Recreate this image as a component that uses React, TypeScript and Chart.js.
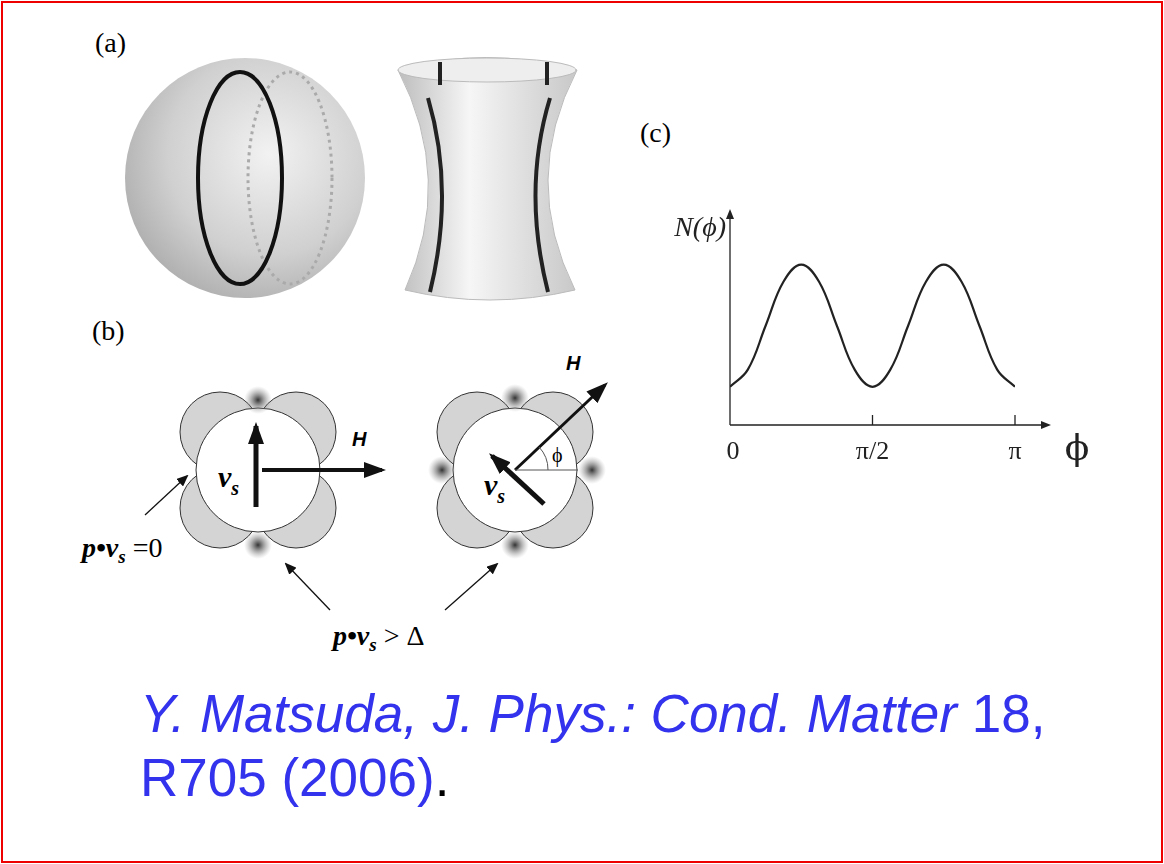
import React, { useEffect, useRef } from "react";
import { Chart, registerables } from "chart.js";
Chart.register(...registerables);

// angle in units of pi
const phiValues = [0, 0.0625, 0.125, 0.1875, 0.25, 0.3125, 0.375, 0.4375, 0.5, 0.5625, 0.625, 0.6875, 0.75, 0.8125, 0.875, 0.9375, 1];
const nValues = [1.0, 1.45, 2.6, 3.75, 4.2, 3.75, 2.6, 1.45, 1.0, 1.45, 2.6, 3.75, 4.2, 3.75, 2.6, 1.45, 1.0];
const tickValues = [0, 0.5, 1];
const tickLabels = ["0", "π/2", "π"];

const axesPlugin = {
  id: "axesPlugin",
  afterDraw(chart: any) {
    const { ctx, scales } = chart;
    const x = scales.x, y = scales.y;
    const x0 = x.getPixelForValue(0), y0 = y.getPixelForValue(0);
    const xEnd = x.getPixelForValue(1) + 30, yTop = y.getPixelForValue(5.5);
    ctx.save();
    ctx.strokeStyle = "#222"; ctx.fillStyle = "#222"; ctx.lineWidth = 1.3;
    ctx.beginPath(); ctx.moveTo(x0, y0); ctx.lineTo(xEnd, y0); ctx.moveTo(x0, y0); ctx.lineTo(x0, yTop); ctx.stroke();
    ctx.beginPath(); ctx.moveTo(xEnd + 6, y0); ctx.lineTo(xEnd - 4, y0 - 4); ctx.lineTo(xEnd - 4, y0 + 4); ctx.fill();
    ctx.beginPath(); ctx.moveTo(x0, yTop - 6); ctx.lineTo(x0 - 4, yTop + 4); ctx.lineTo(x0 + 4, yTop + 4); ctx.fill();
    ctx.font = "26px 'Liberation Serif', serif"; ctx.textAlign = "center"; ctx.textBaseline = "top";
    tickValues.forEach((v, i) => {
      const px = x.getPixelForValue(v);
      if (i > 0) { ctx.beginPath(); ctx.moveTo(px, y0); ctx.lineTo(px, y0 - 10); ctx.stroke(); }
      ctx.fillText(tickLabels[i], px + (i === 0 ? 3 : 0), y0 + 14);
    });
    ctx.font = "36px 'DejaVu Serif', serif";
    ctx.fillText("ϕ", xEnd + 32, y0 + 8);
    ctx.font = "italic 28px 'Liberation Serif', serif"; ctx.textAlign = "right"; ctx.textBaseline = "middle";
    ctx.fillText("N(ϕ)", x0 - 4, yTop + 14);
    ctx.restore();
  },
};

export default function App() {
  const ref = useRef<HTMLCanvasElement>(null);
  useEffect(() => {
    const chart = new Chart(ref.current!, {
      type: "line",
      data: { datasets: [{ data: phiValues.map((p, i) => ({ x: p, y: nValues[i] })), borderColor: "#222", borderWidth: 2.2, pointRadius: 0, tension: 0.4 }] },
      options: {
        animation: false, responsive: false, devicePixelRatio: 1,
        layout: { padding: { left: 730, right: 149, top: 215, bottom: 439 } },
        plugins: { legend: { display: false }, tooltip: { enabled: false } },
        scales: { x: { type: "linear", min: 0, max: 1, display: false }, y: { min: 0, max: 5.5, display: false } },
      },
      plugins: [axesPlugin],
    });
    return () => chart.destroy();
  }, []);
  const serif = "'Liberation Serif', serif";
  const lobes = (cx: number, cy: number) => (
    <g>
      {[[-1, -1], [1, -1], [-1, 1], [1, 1]].map(([a, b], i) => (
        <circle key={i} cx={cx + a * 38} cy={cy + b * 38} r={40} fill="#d4d4d4" stroke="#333" strokeWidth={1} />
      ))}
      <circle cx={cx} cy={cy} r={62} fill="#fff" stroke="#333" strokeWidth={1} />
    </g>
  );
  const blob = (cx: number, cy: number, k: number) => <circle key={k} cx={cx} cy={cy} r={14} fill="url(#blob)" />;
  return (
    <div style={{ position: "absolute", left: 0, top: 0, width: 1164, height: 864, background: "#fff" }}>
      <svg width={1164} height={864} style={{ position: "absolute", left: 0, top: 0 }}>
        <defs>
          <radialGradient id="sph" cx="0.6" cy="0.4" r="0.7">
            <stop offset="0" stopColor="#f2f2f2" /><stop offset="0.6" stopColor="#d0d0d0" /><stop offset="1" stopColor="#a8a8a8" />
          </radialGradient>
          <linearGradient id="hyp" x1="0" x2="1">
            <stop offset="0" stopColor="#bdbdbd" /><stop offset="0.4" stopColor="#f6f6f6" /><stop offset="1" stopColor="#c8c8c8" />
          </linearGradient>
          <radialGradient id="blob"><stop offset="0" stopColor="#333" /><stop offset="1" stopColor="#999" stopOpacity="0" /></radialGradient>
          <marker id="ar" markerUnits="userSpaceOnUse" markerWidth="12" markerHeight="10" refX="10" refY="5" orient="auto"><path d="M0,0 L12,5 L0,10 Z" fill="#111" /></marker>
          <marker id="ar2" markerUnits="userSpaceOnUse" markerWidth="22" markerHeight="16" refX="18" refY="8" orient="auto"><path d="M0,0 L22,8 L0,16 Z" fill="#111" /></marker>
        </defs>
        <rect x={2} y={2} width={1160} height={860} fill="none" stroke="#e00" strokeWidth={2} />
        <text x={95} y={52} fontFamily={serif} fontSize={28}>(a)</text>
        <text x={92} y={340} fontFamily={serif} fontSize={28}>(b)</text>
        <text x={640} y={142} fontFamily={serif} fontSize={28}>(c)</text>
        <circle cx={245} cy={178} r={120} fill="url(#sph)" />
        <ellipse cx={290} cy={178} rx={42} ry={106} fill="none" stroke="#aaa" strokeWidth={3} strokeDasharray="3 4" />
        <ellipse cx={240} cy={178} rx={42} ry={106} fill="none" stroke="#111" strokeWidth={4} />
        <path d="M398,70 Q485,45 577,70 Q520,180 575,290 Q490,310 405,290 Q455,180 398,70 Z" fill="url(#hyp)" stroke="#bbb" />
        <ellipse cx={487} cy={70} rx={89} ry={12} fill="#eee" stroke="#bbb" />
        <path d="M440,62 L440,85" stroke="#222" strokeWidth={4} />
        <path d="M547,62 L547,85" stroke="#222" strokeWidth={4} />
        <path d="M428,98 Q455,190 430,292" stroke="#222" strokeWidth={4} fill="none" />
        <path d="M550,98 Q522,190 548,292" stroke="#222" strokeWidth={4} fill="none" />
        {lobes(258, 470)}
        {[blob(258, 400, 1), blob(258, 545, 2)]}
        <line x1={256} y1={507} x2={256} y2={426} stroke="#111" strokeWidth={5} markerEnd="url(#ar2)" />
        <line x1={262} y1={470} x2={382} y2={470} stroke="#111" strokeWidth={4} markerEnd="url(#ar2)" />
        <text x={352} y={446} fontFamily="'Liberation Sans', sans-serif" fontWeight="bold" fontStyle="italic" fontSize={20}>H</text>
        <text x={218} y={487} fontFamily={serif} fontWeight="bold" fontStyle="italic" fontSize={30}>v<tspan fontSize={20} dy={8}>s</tspan></text>
        {lobes(515, 470)}
        {[blob(515, 398, 3), blob(515, 545, 4), blob(442, 470, 5), blob(592, 470, 6)]}
        <line x1={515} y1={470} x2={605} y2={385} stroke="#111" strokeWidth={3} markerEnd="url(#ar2)" />
        <line x1={544} y1={504} x2={492} y2={456} stroke="#111" strokeWidth={5} markerEnd="url(#ar2)" />
        <line x1={515} y1={470} x2={578} y2={470} stroke="#555" strokeWidth={1} />
        <path d="M548,470 A33,33 0 0 0 539,447" fill="none" stroke="#555" />
        <text x={552} y={462} fontFamily={serif} fontSize={20}>ϕ</text>
        <text x={566} y={370} fontFamily="'Liberation Sans', sans-serif" fontWeight="bold" fontStyle="italic" fontSize={20}>H</text>
        <text x={484} y={495} fontFamily={serif} fontWeight="bold" fontStyle="italic" fontSize={30}>v<tspan fontSize={20} dy={8}>s</tspan></text>
        <line x1={145} y1={515} x2={187} y2={476} stroke="#111" strokeWidth={1.3} markerEnd="url(#ar)" />
        <text x={82} y={557} fontFamily={serif} fontWeight="bold" fontStyle="italic" fontSize={28}>p•v<tspan fontSize={19} dy={6}>s</tspan><tspan dy={-6} fontWeight="normal" fontStyle="normal"> =0</tspan></text>
        <line x1={330} y1={610} x2={286} y2={564} stroke="#111" strokeWidth={1.3} markerEnd="url(#ar)" />
        <line x1={445} y1={610} x2={497} y2={564} stroke="#111" strokeWidth={1.3} markerEnd="url(#ar)" />
        <text x={333} y={645} fontFamily={serif} fontWeight="bold" fontStyle="italic" fontSize={28}>p•v<tspan fontSize={19} dy={6}>s</tspan><tspan dy={-6} fontWeight="normal" fontStyle="normal"> &gt; Δ</tspan></text>
        <text x={140} y={732} fontFamily="'Liberation Sans', sans-serif" fontSize={53} fill="#3333ee"><tspan fontStyle="italic">Y. Matsuda, J. Phys.: Cond. Matter</tspan> 18,</text>
        <text x={140} y={796} fontFamily="'Liberation Sans', sans-serif" fontSize={53} fill="#3333ee">R705 (2006)<tspan fill="#000">.</tspan></text>
      </svg>
      <canvas ref={ref} width={1164} height={864} style={{ position: "absolute", left: 0, top: 0 }} />
    </div>
  );
}
